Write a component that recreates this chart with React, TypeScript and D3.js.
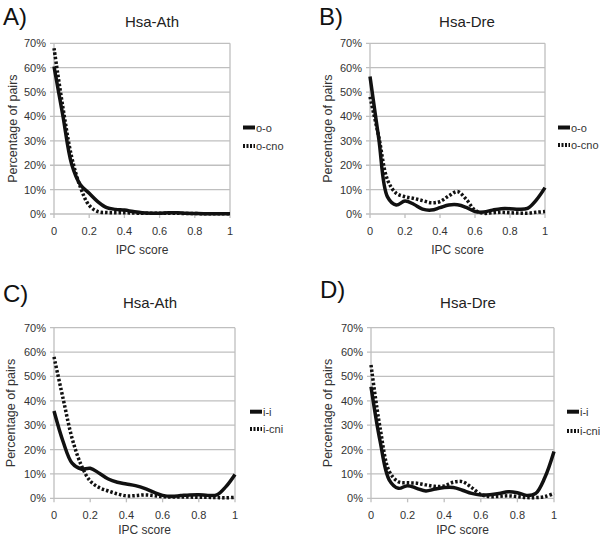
import React from "react";
import * as d3 from "d3";

// IPC score bins (x categories)
const ipcScores = [0, 0.05, 0.1, 0.15, 0.2, 0.25, 0.3, 0.35, 0.4, 0.45, 0.5, 0.55, 0.6, 0.65, 0.7, 0.75, 0.8, 0.85, 0.9, 0.95, 1];
const xTicks = [0, 0.2, 0.4, 0.6, 0.8, 1];
const yTicks = [0, 10, 20, 30, 40, 50, 60, 70];

// percentage of pairs
const athOO = [60.5, 40.5, 20.5, 12, 8.5, 5, 2.6, 1.9, 1.6, 1.0, 0.5, 0.3, 0.3, 0.5, 0.5, 0.3, 0.2, 0.1, 0.1, 0.1, 0.1];
const athOCno = [68, 44, 23.5, 11, 3.5, 1, 0.6, 0.5, 0.5, 0.4, 0.3, 0.3, 0.3, 0.3, 0.3, 0.2, 0.2, 0.1, 0.1, 0.1, 0.1];
const dreOO = [56.4, 31, 7, 3.7, 5.3, 4, 2, 1.6, 2.6, 3.7, 3.8, 2.7, 1, 0.8, 1.6, 2.2, 2.2, 1.9, 2.3, 5.7, 10.8];
const dreOCno = [48, 31.7, 14, 8.5, 7.1, 6.4, 5.5, 4.6, 5.1, 7.4, 9.2, 6, 1.6, 0.3, 0.5, 0.7, 0.5, 0.4, 0.3, 0.7, 1];
const athII = [35.8, 23.3, 14.4, 12, 12.3, 10.3, 7.9, 6.6, 5.9, 5.2, 4.1, 2.5, 1.2, 0.8, 1.1, 1.4, 1.5, 1.2, 1.4, 4.8, 9.8];
const athICni = [58, 41, 24.6, 13.7, 7.1, 4.4, 3, 1.8, 1, 1.1, 1.4, 1.1, 0.7, 0.5, 0.5, 0.5, 0.4, 0.4, 0.3, 0.2, 0.4];
const dreII = [45.8, 23.3, 7.5, 4.1, 5.2, 4.1, 3, 3.8, 4.4, 4.4, 3.3, 2, 1.4, 1.5, 2, 2.7, 2.3, 1.2, 2.0, 8.5, 19.2];
const dreICni = [54.7, 28.7, 11, 6.8, 6.4, 6.2, 5.5, 4.9, 5.1, 6.6, 6.8, 4.4, 1.6, 0.7, 0.8, 1, 0.7, 0.3, 0.3, 0.7, 2];

const panelLetters = ["A)", "B)", "C)", "D)"];
const panelTitles = ["Hsa-Ath", "Hsa-Dre", "Hsa-Ath", "Hsa-Dre"];
const solidNames = ["o-o", "o-o", "i-i", "i-i"];
const dottedNames = ["o-cno", "o-cno", "i-cni", "i-cni"];
const solidSeries = [athOO, dreOO, athII, dreII];
const dottedSeries = [athOCno, dreOCno, athICni, dreICni];

// layout of each panel (pixels)
const layouts = [
  { l: 54, r: 230, t: 43.3, b: 214, xTitleY: 254, letterX: 3, letterY: 25, titleX: 152, titleY: 27, yTitleX: 13, legX: 243, legY1: 127.5, legY2: 146 },
  { l: 370, r: 545, t: 43.3, b: 214, xTitleY: 254, letterX: 319, letterY: 25, titleX: 467, titleY: 27, yTitleX: 328, legX: 558, legY1: 127.5, legY2: 145 },
  { l: 54, r: 235, t: 327.7, b: 498.3, xTitleY: 534, letterX: 3, letterY: 302, titleX: 150, titleY: 308, yTitleX: 11, legX: 250, legY1: 411.7, legY2: 429 },
  { l: 371, r: 554, t: 327.7, b: 498.3, xTitleY: 534, letterX: 320, letterY: 298, titleX: 468, titleY: 308, yTitleX: 328, legX: 567, legY1: 411.7, legY2: 431 },
];

const font = "'Liberation Sans', Arial, sans-serif";
const grid = "#bfbfbf";

function Panel({ i }: { i: number }) {
  const L = layouts[i];
  const x = d3.scaleLinear().domain([0, 1]).range([L.l, L.r]);
  const y = d3.scaleLinear().domain([0, 70]).range([L.b, L.t]);
  const line = d3
    .line<number>()
    .x((_, k) => x(ipcScores[k]))
    .y((d) => y(d))
    .curve(d3.curveCatmullRom.alpha(0.5));

  return (
    <g fontFamily={font}>
      <text x={L.letterX} y={L.letterY} fontSize={24} fill="#111">{panelLetters[i]}</text>
      <text x={L.titleX} y={L.titleY} fontSize={15} textAnchor="middle" fill="#222">{panelTitles[i]}</text>

      {yTicks.map((t) => (
        <g key={t}>
          <line x1={L.l - 4} x2={L.r} y1={y(t)} y2={y(t)} stroke={grid} strokeWidth={1.3} />
          <text x={L.l - 8} y={y(t) + 4} fontSize={11} textAnchor="end" fill="#333">{t}%</text>
        </g>
      ))}
      <line x1={L.l} x2={L.l} y1={L.t} y2={L.b} stroke={grid} strokeWidth={1.3} />
      <line x1={L.r} x2={L.r} y1={L.t} y2={L.b} stroke={grid} strokeWidth={1.3} />
      {xTicks.map((t) => (
        <g key={t}>
          <line x1={x(t)} x2={x(t)} y1={L.b} y2={L.b + 4} stroke={grid} strokeWidth={1.3} />
          <text x={x(t)} y={L.b + 21} fontSize={11} textAnchor="middle" fill="#333">{t}</text>
        </g>
      ))}

      <text x={(L.l + L.r) / 2} y={L.xTitleY} fontSize={12} textAnchor="middle" fill="#333">IPC score</text>
      <text
        transform={`translate(${L.yTitleX + 4},${(L.t + L.b) / 2}) rotate(-90)`}
        fontSize={12.5}
        textAnchor="middle"
        fill="#333"
      >
        Percentage of pairs
      </text>

      <path d={line(dottedSeries[i]) || ""} fill="none" stroke="#111" strokeWidth={3.5} strokeDasharray="2.5 2" />
      <path d={line(solidSeries[i]) || ""} fill="none" stroke="#111" strokeWidth={3.5} strokeLinejoin="round" />

      <line x1={L.legX} x2={L.legX + 12} y1={L.legY1} y2={L.legY1} stroke="#111" strokeWidth={4} />
      <text x={L.legX + 13} y={L.legY1 + 4} fontSize={11} fill="#333">{solidNames[i]}</text>
      <line x1={L.legX} x2={L.legX + 12} y1={L.legY2} y2={L.legY2} stroke="#111" strokeWidth={4} strokeDasharray="2 1.5" />
      <text x={L.legX + 13} y={L.legY2 + 4} fontSize={11} fill="#333">{dottedNames[i]}</text>
    </g>
  );
}

export default function App() {
  return (
    <svg width={600} height={539} style={{ position: "absolute", left: 0, top: 0, background: "#fff" }}>
      {layouts.map((_, i) => (
        <Panel key={i} i={i} />
      ))}
    </svg>
  );
}
